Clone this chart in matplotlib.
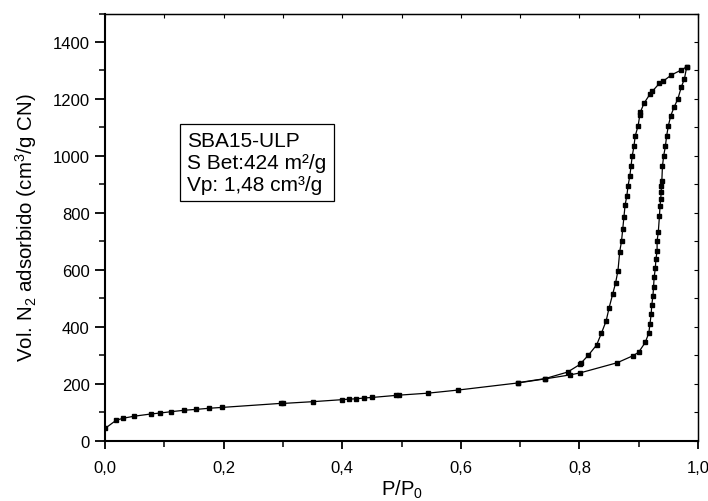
import matplotlib
matplotlib.use("Agg")
import matplotlib.pyplot as plt
from matplotlib.ticker import MultipleLocator, FuncFormatter

plt.rcParams['font.family'] = ['Liberation Sans', 'DejaVu Sans']
plt.rcParams['mathtext.default'] = 'regular'

# Adsorption branch
p_ads = [0.0, 0.019, 0.031, 0.049, 0.078, 0.092, 0.112, 0.134, 0.154, 0.176, 0.198,
         0.296, 0.301, 0.350, 0.399, 0.411, 0.423, 0.437, 0.451, 0.490, 0.496, 0.545,
         0.596, 0.697, 0.742, 0.784, 0.801, 0.864, 0.891, 0.900, 0.911, 0.917, 0.919,
         0.921, 0.922, 0.924, 0.925, 0.926, 0.928, 0.929, 0.931, 0.931, 0.933, 0.935,
         0.936, 0.937, 0.938, 0.938, 0.939, 0.940, 0.942, 0.945, 0.947, 0.950, 0.954,
         0.960, 0.966, 0.972, 0.977, 0.981]
v_ads = [43, 72, 79, 86, 94, 97, 102, 107, 110, 114, 117,
         131, 131, 137, 144, 146, 147, 150, 152, 159, 160, 167,
         178, 203, 217, 231, 238, 274, 299, 311, 345, 378, 410,
         445, 476, 509, 539, 574, 605, 638, 665, 702, 732, 790,
         825, 849, 872, 895, 913, 963, 999, 1034, 1069, 1106, 1141,
         1173, 1200, 1243, 1270, 1313]

# Desorption branch
p_des = [0.981, 0.972, 0.955, 0.941, 0.935, 0.923, 0.919, 0.909, 0.903, 0.902, 0.899,
         0.894, 0.892, 0.889, 0.887, 0.885, 0.882, 0.880, 0.877, 0.875, 0.873, 0.871,
         0.868, 0.865, 0.861, 0.856, 0.850, 0.845, 0.837, 0.829, 0.815, 0.803, 0.801,
         0.780, 0.742, 0.697]
v_des = [1313, 1302, 1284, 1262, 1255, 1227, 1217, 1185, 1155, 1145, 1106,
         1069, 1034, 999, 963, 929, 895, 860, 827, 784, 742, 701,
         664, 597, 554, 514, 466, 420, 377, 336, 300, 273, 268,
         241, 218, 204]

info_text = "SBA15-ULP\nS Bet:424 m²/g\nVp: 1,48 cm³/g"

fig = plt.figure(figsize=(7.08, 5.02), dpi=100)
ax = fig.add_axes([0.1483, 0.1201, 0.8376, 0.851])

for p, v in ((p_ads, v_ads), (p_des, v_des)):
    ax.plot(p, v, color='black', lw=0.9, marker='s', ms=2.8, mfc='black', mec='black')

ax.set_xlim(0, 1.0)
ax.set_ylim(0, 1500)
ax.xaxis.set_major_locator(MultipleLocator(0.2))
ax.xaxis.set_minor_locator(MultipleLocator(0.1))
ax.yaxis.set_major_locator(MultipleLocator(200))
ax.yaxis.set_minor_locator(MultipleLocator(100))
ax.xaxis.set_major_formatter(FuncFormatter(lambda x, pos: f"{x:.1f}".replace('.', ',')))
ax.set_yticks([0, 200, 400, 600, 800, 1000, 1200, 1400])

ax.tick_params(which='both', top=False, right=False, labelsize=12)
ax.tick_params(axis='y', which='major', direction='out', length=7.5, width=1.3, pad=3.5)
ax.tick_params(axis='y', which='minor', direction='out', length=4, width=1.1)
ax.tick_params(axis='x', which='major', direction='out', length=6, width=1.3, pad=8)
ax.tick_params(axis='x', which='minor', direction='out', length=4, width=1.1)
for s in ('left', 'bottom'):
    ax.spines[s].set_linewidth(1.5)
for s in ('top', 'right'):
    ax.spines[s].set_linewidth(1.0)

secx = ax.secondary_xaxis('top')
secx.xaxis.set_major_locator(MultipleLocator(0.1))
secx.tick_params(direction='in', length=3, width=0.8, labeltop=False)
secy = ax.secondary_yaxis('right')
secy.yaxis.set_major_locator(MultipleLocator(100))
secy.tick_params(direction='in', length=3, width=0.8, labelright=False)

ax.set_ylabel("Vol. N$_2$ adsorbido (cm$^3$/g CN)", fontsize=14.8, labelpad=10)
ax.set_xlabel("P/P$_0$", fontsize=14.5, labelpad=2)

ax.text(0.1383, 0.725, info_text, transform=ax.transAxes, fontsize=15, va='top', ha='left',
        linespacing=1.2,
        bbox=dict(boxstyle='square,pad=0.35', fc='white', ec='black', lw=0.9))

fig.savefig("out.png", dpi=100)
